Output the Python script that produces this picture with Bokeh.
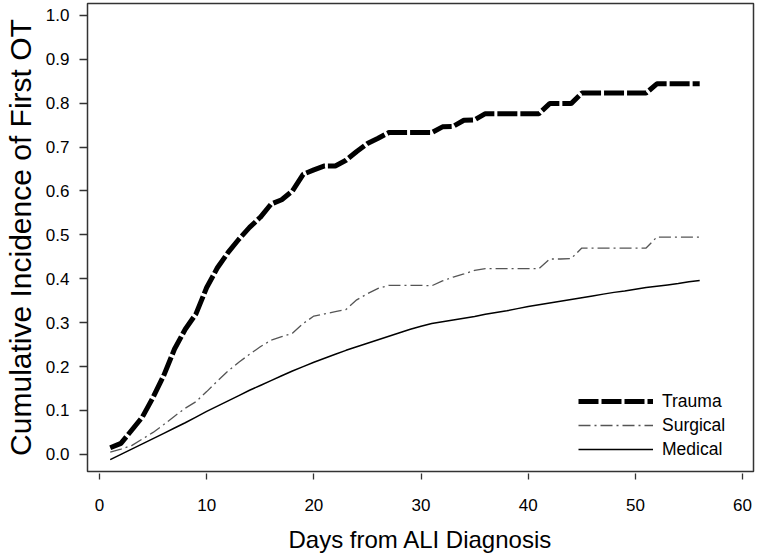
from bokeh.plotting import figure
from bokeh.models import Legend, LegendItem, FixedTicker, NumeralTickFormatter, Range1d, ColumnDataSource
from bokeh.embed import file_html
from bokeh.resources import INLINE

days = list(range(1, 57))
trauma = [0.015, 0.025, 0.055, 0.085, 0.13, 0.18, 0.24, 0.285, 0.32, 0.38,
          0.425, 0.46, 0.49, 0.517, 0.54, 0.57, 0.58, 0.60, 0.638, 0.648,
          0.657, 0.657, 0.67, 0.69, 0.708, 0.72, 0.733, 0.733, 0.733, 0.733,
          0.733, 0.746, 0.747, 0.761, 0.762, 0.776, 0.776, 0.776, 0.776, 0.776,
          0.776, 0.799, 0.799, 0.799, 0.823, 0.823, 0.823, 0.823, 0.823, 0.823,
          0.823, 0.844, 0.844, 0.844, 0.844, 0.844]
surgical = [0.005, 0.012, 0.02, 0.035, 0.05, 0.068, 0.087, 0.105, 0.12, 0.143,
            0.167, 0.19, 0.21, 0.228, 0.245, 0.26, 0.268, 0.276, 0.298, 0.315,
            0.32, 0.325, 0.33, 0.352, 0.366, 0.378, 0.385, 0.385, 0.385, 0.385,
            0.384, 0.395, 0.404, 0.411, 0.419, 0.423, 0.423, 0.423, 0.423, 0.423,
            0.423, 0.445, 0.445, 0.446, 0.47, 0.47, 0.47, 0.47, 0.47, 0.47,
            0.47, 0.495, 0.495, 0.495, 0.495, 0.495]
medical = [-0.012, 0.0, 0.012, 0.024, 0.036, 0.048, 0.06, 0.072, 0.085, 0.098,
           0.11, 0.122, 0.134, 0.146, 0.157, 0.168, 0.179, 0.19, 0.2, 0.21,
           0.219, 0.228, 0.237, 0.245, 0.253, 0.261, 0.269, 0.277, 0.285, 0.292,
           0.298, 0.302, 0.306, 0.31, 0.314, 0.319, 0.323, 0.327, 0.332, 0.337,
           0.341, 0.345, 0.349, 0.353, 0.357, 0.361, 0.365, 0.369, 0.372, 0.376,
           0.38, 0.383, 0.386, 0.389, 0.393, 0.396]
x_ticks = [0, 10, 20, 30, 40, 50, 60]
y_ticks = [0.0, 0.1, 0.2, 0.3, 0.4, 0.5, 0.6, 0.7, 0.8, 0.9, 1.0]
series_names = ["Trauma", "Surgical", "Medical"]
x_title = "Days from ALI Diagnosis"
y_title = "Cumulative Incidence of First OT"

FONT = "Liberation Sans"

src = ColumnDataSource(dict(day=days, trauma=trauma, surgical=surgical, medical=medical))

p = figure(width=757, height=555, output_backend="svg", toolbar_location=None,
           x_range=Range1d(-1.12, 61.02), y_range=Range1d(-0.039, 1.027),
           min_border_left=87, min_border_right=4, min_border_top=3, min_border_bottom=84)
p.background_fill_color = "white"
p.border_fill_color = "white"
p.outline_line_color = "#333333"
p.outline_line_width = 1.5
p.xgrid.visible = False
p.ygrid.visible = False

r_med = p.line("day", "medical", source=src, line_color="black", line_width=1.5)
r_sur = p.line("day", "surgical", source=src, line_color="#555555", line_width=1.3, line_dash="12 4 2 4")
r_tra = p.line("day", "trauma", source=src, line_color="black", line_width=5, line_dash="20 3")

xa = p.xaxis[0]
xa.ticker = FixedTicker(ticks=x_ticks)
xa.axis_line_color = None
xa.major_tick_in = -2
xa.major_tick_out = 8
xa.major_tick_line_color = "#333333"
xa.major_tick_line_width = 1.3
xa.minor_tick_line_color = None
xa.major_label_text_font = FONT
xa.major_label_text_font_size = "17px"
xa.major_label_text_color = "black"
xa.major_label_standoff = 19
xa.axis_label = x_title
xa.axis_label_text_font = FONT
xa.axis_label_text_font_size = "24px"
xa.axis_label_text_font_style = "normal"
xa.axis_label_text_color = "black"
xa.axis_label_standoff = 12

ya = p.yaxis[0]
ya.ticker = FixedTicker(ticks=y_ticks)
ya.formatter = NumeralTickFormatter(format="0.0")
ya.axis_line_color = None
ya.major_tick_in = 0
ya.major_tick_out = 8
ya.major_tick_line_color = "#333333"
ya.major_tick_line_width = 1.3
ya.minor_tick_line_color = None
ya.major_label_text_font = FONT
ya.major_label_text_font_size = "17px"
ya.major_label_text_color = "black"
ya.major_label_standoff = 10
ya.axis_label = y_title
ya.axis_label_text_font = FONT
ya.axis_label_text_font_size = "30px"
ya.axis_label_text_line_height = 1.0
ya.axis_label_text_font_style = "normal"
ya.axis_label_text_color = "black"
ya.axis_label_standoff = 6

legend = Legend(items=[LegendItem(label=series_names[0], renderers=[r_tra]),
                       LegendItem(label=series_names[1], renderers=[r_sur]),
                       LegendItem(label=series_names[2], renderers=[r_med])],
                location=(491, 10), border_line_color=None, background_fill_alpha=0,
                padding=0, margin=0, spacing=0, glyph_width=75, glyph_height=24,
                label_height=24, label_standoff=9,
                label_text_font=FONT, label_text_font_size="17.5px",
                label_text_color="black")
p.add_layout(legend, "center")

open("out.html", "w").write(file_html(p, INLINE))
